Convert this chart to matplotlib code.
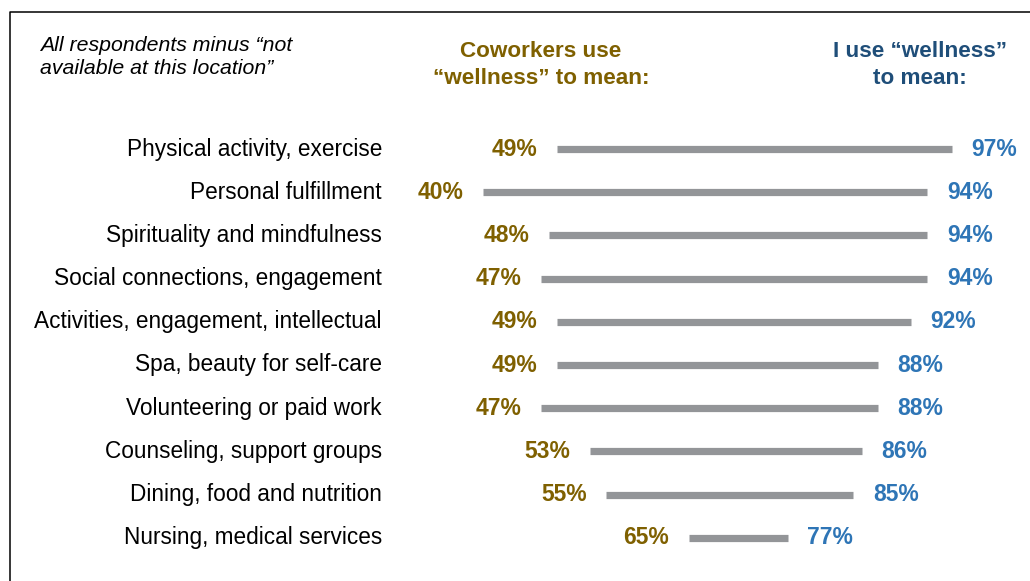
import matplotlib.pyplot as plt
from matplotlib.lines import Line2D
from matplotlib.transforms import blended_transform_factory

plt.rcParams['font.family'] = ['Liberation Sans', 'DejaVu Sans']

# wellness meanings: what coworkers mean vs what I mean (%)
categories = ["Physical activity, exercise", "Personal fulfillment",
              "Spirituality and mindfulness", "Social connections, engagement",
              "Activities, engagement, intellectual", "Spa, beauty for self-care",
              "Volunteering or paid work", "Counseling, support groups",
              "Dining, food and nutrition", "Nursing, medical services"]
coworkers = [49, 40, 48, 47, 49, 49, 47, 53, 55, 65]
i_use = [97, 94, 94, 94, 92, 88, 88, 86, 85, 77]

gold = '#7f6000'
blue = '#2e75b6'
navy = '#1f4e79'
grey = '#939598'

W, H = 1030, 581
fig = plt.figure(figsize=(W / 100, H / 100), dpi=100)
ax = fig.add_axes([0, 0, 1, 1])
ax.set_xlim(-18.69, 106.46)
ax.set_ylim((H - 149) / 43.2, -149 / 43.2)
ax.axis('off')

rows = range(len(categories))
ax.hlines(list(rows), coworkers, i_use, color=grey, lw=5.2)

for r, c, u in zip(rows, coworkers, i_use):
    ax.annotate(f"{c}%", (c, r), xytext=(-14, 0), textcoords='offset points',
                ha='right', va='center', fontsize=16.5, fontweight='bold', color=gold)
    ax.annotate(f"{u}%", (u, r), xytext=(14, 0), textcoords='offset points',
                ha='left', va='center', fontsize=16.5, fontweight='bold', color=blue)

# category names, right aligned at a fixed figure position
tr = blended_transform_factory(fig.transFigure, ax.transData)
for r, name in zip(rows, categories):
    ax.text(382 / W, r, name, transform=tr, ha='right', va='center',
            fontsize=16.3, color='black')

# headers
fig.text(541 / W, 1 - 65 / H, "Coworkers use\n\u201cwellness\u201d to mean:",
         ha='center', va='center', fontsize=16.2, fontweight='bold', color=gold,
         linespacing=1.35)
fig.text(920 / W, 1 - 65 / H, "I use \u201cwellness\u201d\nto mean:",
         ha='center', va='center', fontsize=16.2, fontweight='bold', color=navy,
         linespacing=1.35)
fig.text(40 / W, 1 - 57 / H, "All respondents minus \u201cnot\navailable at this location\u201d",
         ha='left', va='center', fontsize=15.3, style='italic', color='black',
         linespacing=1.3)

# frame lines on top and left
fig.add_artist(Line2D([10 / W, 10 / W, 1], [0, 1 - 12 / H, 1 - 12 / H],
                      transform=fig.transFigure, color='black', lw=1.1))

fig.savefig('out.png', dpi=100, facecolor='white')
